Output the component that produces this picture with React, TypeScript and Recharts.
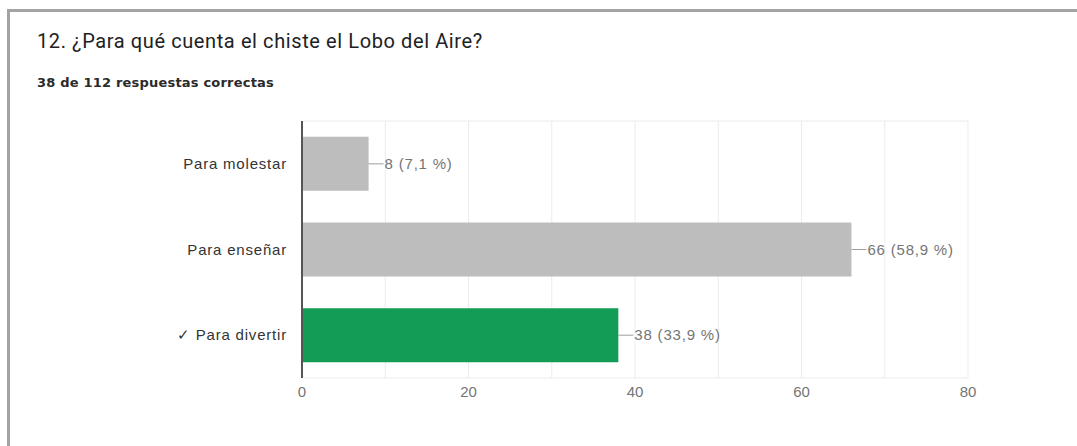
import { BarChart, Bar, XAxis, YAxis, CartesianGrid, Cell, LabelList } from 'recharts';

const answers = ['Para molestar', 'Para enseñar', '✓ Para divertir'];
const counts = [8, 66, 38];
const isCorrect = [false, false, true];
const totalResponses = 112;
const xTicks = [0, 10, 20, 30, 40, 50, 60, 70, 80];

const data = answers.map((name, i) => ({ name, value: counts[i], correct: isCorrect[i] }));

const chartFont = '"Liberation Sans", Arial, sans-serif';

const pct = (v: number) => ((v / totalResponses) * 100).toFixed(1).replace('.', ',');

// leader line from the bar end plus "n (x %)" text
function ValueLabel(props: any) {
  const { x, y, width, height, value } = props;
  const end = Number(x) + Number(width);
  const cy = Number(y) + Number(height) / 2;
  return (
    <g>
      <line x1={end} y1={cy} x2={end + 15} y2={cy} stroke="#9e9e9e" strokeWidth={1} />
      <text
        x={end + 16}
        y={cy}
        dy="0.35em"
        fill="#757575"
        fontSize={15}
        fontFamily={chartFont}
        letterSpacing={0.8}
      >
        {`${value} (${pct(value)} %)`}
      </text>
    </g>
  );
}

export default function App() {
  return (
    <div style={{ position: 'absolute', left: 0, top: 0, width: 1077, height: 446, background: '#fff' }}>
      <div
        style={{
          position: 'absolute',
          left: 7,
          top: 9,
          width: 1070,
          height: 437,
          borderTop: '3px solid #a3a3a3',
          borderLeft: '3px solid #a3a3a3',
          boxSizing: 'border-box',
        }}
      />
      <div
        style={{
          position: 'absolute',
          left: 37,
          top: 29,
          fontFamily: 'Roboto, sans-serif',
          fontSize: 20,
          color: '#202124',
          letterSpacing: 0.6,
          whiteSpace: 'nowrap',
        }}
      >
        12. ¿Para qué cuenta el chiste el Lobo del Aire?
      </div>
      <div
        style={{
          position: 'absolute',
          left: 37,
          top: 75,
          fontFamily: '"DejaVu Sans", sans-serif',
          fontSize: 13,
          fontWeight: 700,
          color: '#2a2a2a',
          letterSpacing: 0.2,
          whiteSpace: 'nowrap',
        }}
      >
        38 de 112 respuestas correctas
      </div>
      <div style={{ position: 'absolute', left: 0, top: 0 }}>
        <BarChart
          width={1077}
          height={446}
          data={data}
          layout="vertical"
          margin={{ top: 121, right: 109, bottom: 38, left: 0 }}
          barCategoryGap="18.5%"
        >
          <CartesianGrid
            stroke="#ebebeb"
            horizontalCoordinatesGenerator={({ offset }: any) => [offset.top, offset.top + offset.height]}
          />
          <XAxis
            type="number"
            domain={[0, 80]}
            ticks={xTicks}
            tickFormatter={(v: number) => (v % 20 === 0 ? String(v) : '')}
            axisLine={false}
            tickLine={false}
            height={30}
            tick={{ fill: '#757575', fontSize: 15, fontFamily: chartFont }}
          />
          <YAxis
            type="category"
            dataKey="name"
            width={302}
            axisLine={{ stroke: '#555', strokeWidth: 2 }}
            tickLine={false}
            tickMargin={9}
            tick={{ fill: '#333', fontSize: 15, fontFamily: chartFont, letterSpacing: 0.8 }}
          />
          <Bar dataKey="value" isAnimationActive={false}>
            {data.map((d) => (
              <Cell key={d.name} fill={d.correct ? '#129c55' : '#bdbdbd'} />
            ))}
            <LabelList dataKey="value" content={<ValueLabel />} />
          </Bar>
        </BarChart>
      </div>
    </div>
  );
}
